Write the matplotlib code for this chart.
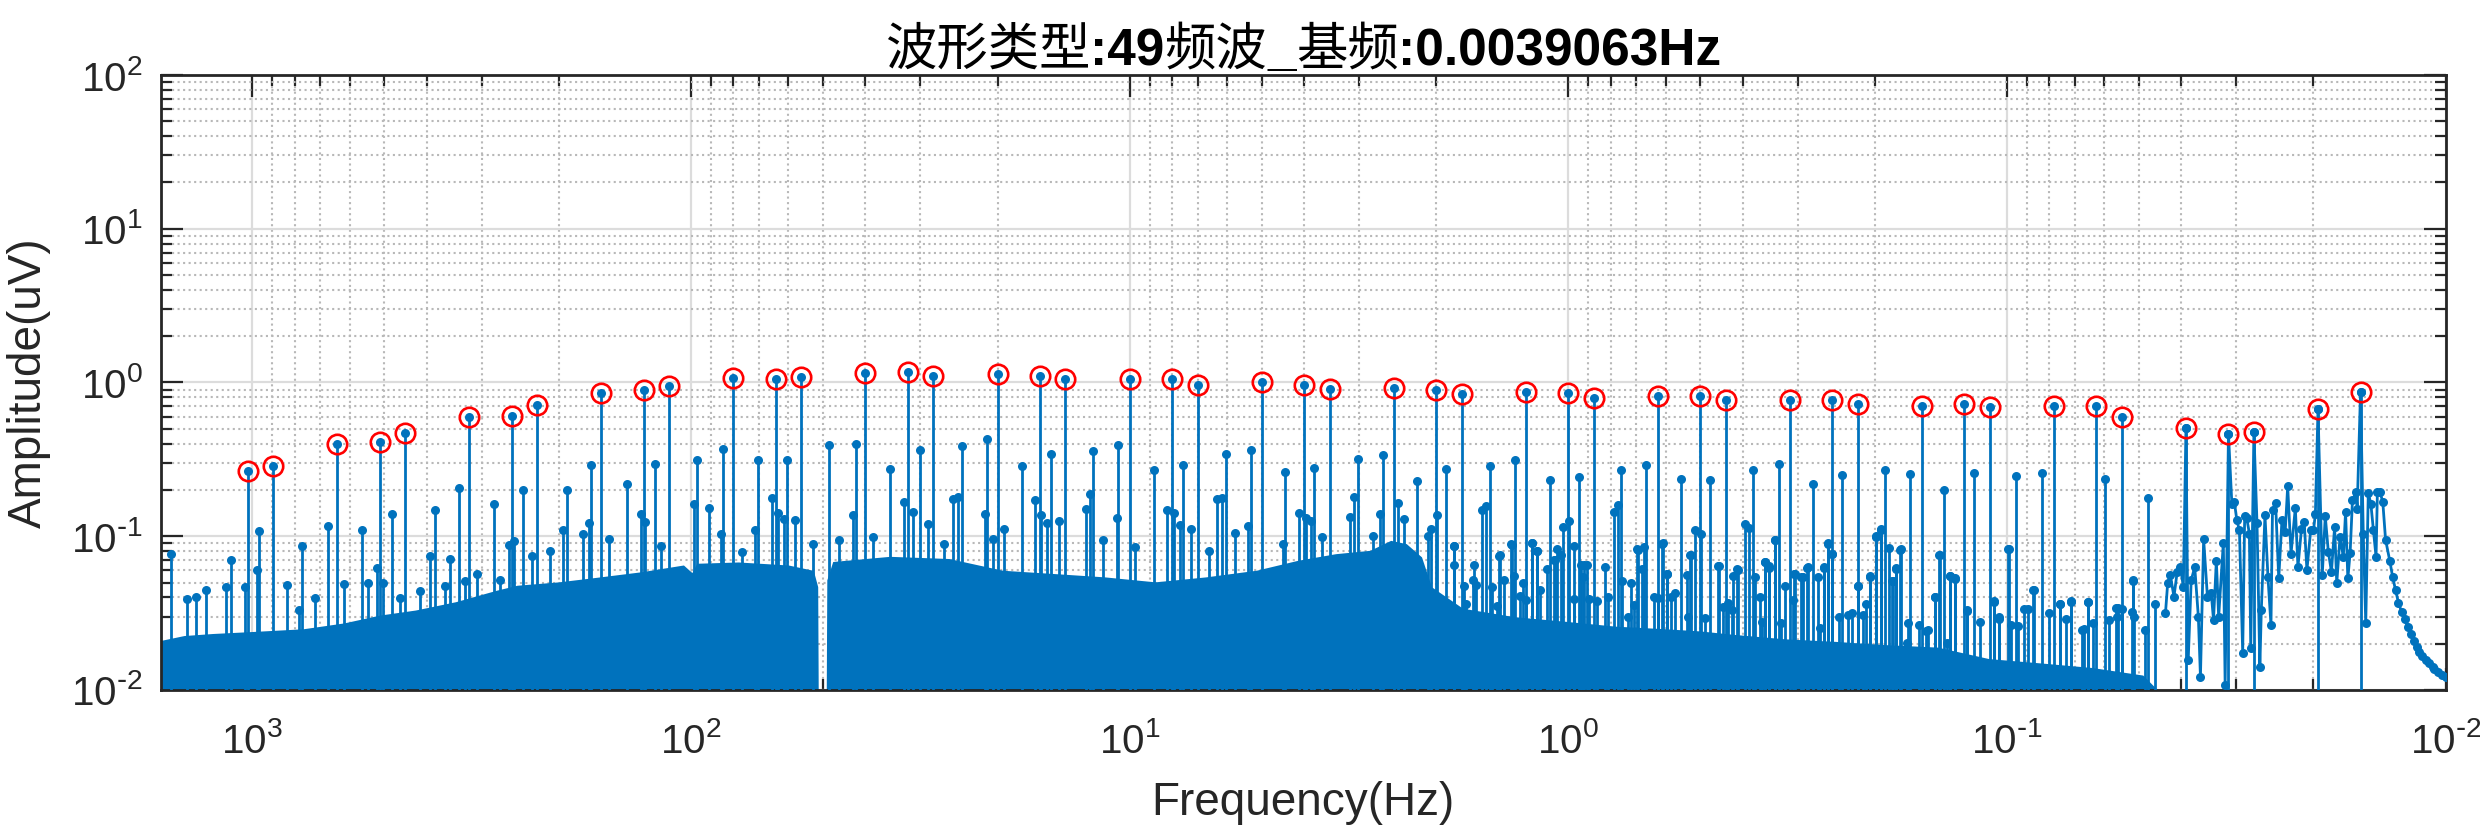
import numpy as np
import matplotlib
matplotlib.use('Agg')
import matplotlib.pyplot as plt
from matplotlib.ticker import LogLocator, NullFormatter, FuncFormatter

plt.rcParams['font.family'] = ['Liberation Sans', 'Noto Sans CJK SC', 'DejaVu Sans']

BLUE = '#0072BD'

# the 49 tone frequencies (Hz) and their amplitudes (uV), marked with red circles
peak_freq = [1024, 896, 640, 512, 448, 320, 256, 224, 160, 128, 112, 80, 64, 56,
             40, 32, 28, 20, 16, 14, 10, 8, 7, 5, 4, 3.5, 2.5, 2, 1.75, 1.25, 1,
             0.875, 0.625, 0.5, 0.4375, 0.3125, 0.25, 0.21875, 0.15625, 0.125,
             0.109375, 0.078125, 0.0625, 0.0546875, 0.0390625, 0.03125,
             0.02734375, 0.01953125, 0.015625]
peak_amp = [0.267, 0.285, 0.398, 0.408, 0.466, 0.596, 0.604, 0.709, 0.853, 0.892,
            0.942, 1.072, 1.046, 1.08, 1.15, 1.167, 1.11, 1.13, 1.10, 1.046,
            1.06, 1.046, 0.956, 1.0, 0.956, 0.91, 0.923, 0.887, 0.836, 0.861,
            0.848, 0.791, 0.811, 0.811, 0.764, 0.764, 0.764, 0.723, 0.706, 0.72,
            0.688, 0.706, 0.706, 0.593, 0.503, 0.464, 0.474, 0.668, 0.861]

# top of the dense noise floor, high -> low frequency
floor_freq = [1617, 1430, 1230, 1000, 766, 618, 512, 425, 344, 277, 249, 200, 161,
              130, 104, 99.5, 97, 78, 60, 52.6, 51.4, 51.2, 49.2, 49.0, 47.5, 35.2,
              25.8, 19.5, 14.9, 11.4, 8.75, 6.70, 5.14, 4.13, 3.39, 2.83, 2.54,
              2.34, 2.16, 2.05, 1.74, 1.33, 1.02, 0.78, 0.60, 0.50, 0.42, 0.32,
              0.246, 0.188, 0.144, 0.110, 0.084, 0.064, 0.049, 0.0437]
floor_amp = [0.021, 0.0226, 0.0233, 0.024, 0.025, 0.0273, 0.0307, 0.0331, 0.0375,
             0.0446, 0.048, 0.0505, 0.0544, 0.0587, 0.065, 0.058, 0.0667, 0.068,
             0.065, 0.060, 0.047, 0.005, 0.005, 0.052, 0.0685, 0.074, 0.0716,
             0.0601, 0.0572, 0.0544, 0.0505, 0.0544, 0.0601, 0.0698, 0.077, 0.081,
             0.094, 0.0895, 0.0734, 0.0469, 0.034, 0.030, 0.028, 0.026,
             0.025, 0.0242, 0.023, 0.0215, 0.0207, 0.0197, 0.019, 0.016,
             0.015, 0.014, 0.0125, 0.009]

# secondary spikes sticking out of the noise floor
spike_freq = [1535, 1405, 1346, 1277, 1149, 1119, 1038, 976, 964, 832, 784, 769, 721,
              673, 618, 561, 546, 520, 504, 481, 461, 415, 393, 384, 363, 354, 337,
              327, 308, 281, 273, 260, 253, 241, 230, 210, 196, 192, 176, 171, 169,
              154, 140, 130, 127, 121, 117, 98.4, 96.6, 90.8, 84.5, 85.5, 76.5,
              71.3, 70.2, 65.3, 63.4, 60.3, 61.2, 57.8, 52.8, 48.4, 45.9, 42.7,
              42.1, 38.4, 35.2, 32.7, 31.1, 30.1, 28.8, 26.5,
              25.2, 24.6, 24.1, 21.4, 21.1, 20.5, 19.3, 17.6, 16.4, 15.9, 15.4,
              15.1, 14.5, 12.6, 12.3, 12.1, 11.5, 10.7, 10.6, 9.70, 8.81, 8.20,
              7.94, 7.69, 7.57, 7.23, 6.60, 6.31, 6.15, 6.04, 5.76, 5.37, 5.30,
              4.48, 4.42, 4.10, 3.96, 3.86, 3.79, 3.64, 3.15, 3.08, 3.02, 2.79,
              2.68, 2.65, 2.44, 2.37, 2.21, 2.09, 2.05, 1.99, 1.90, 1.82, 1.64,
              1.57, 1.54, 1.51, 1.43, 1.345, 1.32, 1.21, 1.18, 1.10, 1.07, 1.03,
              0.996, 0.947, 0.922, 0.787, 0.770, 0.760, 0.698, 0.664, 0.611,
              0.596, 0.553, 0.526,
              0.513, 0.497, 0.474, 0.454, 0.412, 0.395, 0.388, 0.380, 0.356,
              0.348, 0.338, 0.331, 0.304, 0.294, 0.284, 0.277, 0.261, 0.256,
              0.250, 0.237, 0.218, 0.205, 0.199, 0.194, 0.190, 0.183, 0.179,
              0.174, 0.166, 0.146, 0.142, 0.139, 0.135, 0.131, 0.123, 0.1186,
              0.107, 0.0991, 0.0953, 0.0869, 0.0832, 0.0714, 0.0653, 0.0596,
              0.0559, 0.0516, 0.0476,
              0.532, 0.424, 0.361, 0.308, 0.267, 0.226, 0.168, 0.151, 0.104,
              0.0897, 0.0755, 0.0668, 0.0562, 0.0519, 0.0485, 0.0459]
spike_amp = [0.0772, 0.0388, 0.0404, 0.0444, 0.0469, 0.0698, 0.0469, 0.0601, 0.1076,
             0.0481, 0.0331, 0.0861, 0.0394, 0.1161, 0.0486, 0.1094, 0.0500,
             0.0625, 0.0493, 0.139, 0.0394, 0.0440, 0.0741, 0.1476, 0.0476,
             0.0713, 0.207, 0.0510, 0.0566, 0.1614, 0.0518, 0.0883, 0.0929, 0.201,
             0.0744, 0.0803, 0.1105, 0.201, 0.104, 0.1227, 0.289, 0.0966, 0.218,
             0.140, 0.124, 0.296, 0.0861, 0.163, 0.315, 0.1535, 0.371, 0.104,
             0.079, 0.1105, 0.312, 0.176, 0.1426, 0.315, 0.130, 0.128, 0.0895,
             0.390, 0.094, 0.137, 0.400, 0.099, 0.275, 0.167, 0.144, 0.362, 0.120,
             0.0895,
             0.174, 0.180, 0.384, 0.139, 0.431, 0.0966, 0.112, 0.285, 0.171,
             0.137, 0.122, 0.341, 0.126, 0.150, 0.187, 0.356, 0.094, 0.132, 0.395,
             0.0853, 0.268, 0.148, 0.1426, 0.119, 0.289, 0.111, 0.080, 0.174,
             0.176, 0.344, 0.105, 0.116, 0.365, 0.0887, 0.261, 0.142, 0.132,
             0.125, 0.279, 0.099, 0.133, 0.179, 0.319, 0.100, 0.139, 0.339, 0.164,
             0.130, 0.228, 0.100, 0.111, 0.137, 0.272, 0.0861, 0.0649, 0.148,
             0.157, 0.285, 0.0753, 0.0883, 0.315, 0.0905, 0.080, 0.233, 0.0698,
             0.115, 0.126, 0.243, 0.0649, 0.144, 0.159, 0.271, 0.0824, 0.289,
             0.0895, 0.0566, 0.236, 0.0753,
             0.109, 0.103, 0.233, 0.0641, 0.0608, 0.120, 0.113, 0.271, 0.0681,
             0.0638, 0.0951, 0.296, 0.0566, 0.0544, 0.0627, 0.218, 0.063, 0.0895,
             0.077, 0.251, 0.0478, 0.055, 0.099, 0.111, 0.271, 0.0513, 0.0617,
             0.0824, 0.255, 0.0404, 0.0753, 0.199, 0.055, 0.053, 0.0327, 0.259,
             0.0375, 0.0824, 0.248, 0.0446, 0.259, 0.0375, 0.0371, 0.236, 0.0343,
             0.0513, 0.178,
             0.030, 0.033, 0.0278, 0.0384, 0.0254, 0.0315, 0.0271, 0.0245, 0.029,
             0.0337, 0.0362, 0.025, 0.030, 0.0322, 0.0245, 0.0362]

# smaller spikes in the 2 Hz .. 0.05 Hz band
small_freq = [1.82, 1.82, 1.73, 1.71, 1.65, 1.62, 1.49, 1.45, 1.44, 1.40, 1.35, 1.33,
              1.29, 1.27, 1.25, 1.21, 1.18, 1.16, 1.12, 1.08, 1.06, 1.04, 0.969,
              0.969, 0.934, 0.908, 0.925, 0.895, 0.859, 0.823, 0.811, 0.753, 0.732,
              0.718, 0.708, 0.695, 0.679, 0.671, 0.639, 0.624, 0.609, 0.594, 0.583,
              0.570, 0.537, 0.527, 0.487, 0.456, 0.443, 0.433, 0.420, 0.410, 0.376,
              0.366, 0.356, 0.348, 0.338, 0.328, 0.321, 0.306, 0.292, 0.285, 0.269,
              0.261, 0.256, 0.250, 0.241, 0.230, 0.219, 0.213, 0.209, 0.205, 0.199,
              0.194, 0.186, 0.182, 0.179, 0.175, 0.169, 0.159, 0.153, 0.146, 0.143,
              0.137, 0.135, 0.131, 0.123, 0.115, 0.107, 0.104, 0.0995, 0.0981,
              0.0945, 0.0914, 0.0872, 0.0802, 0.0758, 0.0733, 0.0713, 0.0674,
              0.0653, 0.0637, 0.0586, 0.0564, 0.0546, 0.0516, 0.0514]
small_amp = [0.0861, 0.0649, 0.0473, 0.0365, 0.0523, 0.0481, 0.0464, 0.0351, 0.0748,
             0.0518, 0.0887, 0.055, 0.0407, 0.0497, 0.0384, 0.0905, 0.080, 0.0446,
             0.0608, 0.0698, 0.0832, 0.0753, 0.0861, 0.0388, 0.0649, 0.0649, 0.054,
             0.0392, 0.038, 0.0633, 0.0404, 0.0513, 0.030, 0.050, 0.0357, 0.0818,
             0.0608, 0.0853, 0.040, 0.0395, 0.0905, 0.0566, 0.0404, 0.0425, 0.0556,
             0.0753, 0.0292, 0.0638, 0.0348, 0.0369, 0.055, 0.0601, 0.054, 0.040,
             0.0681, 0.0626, 0.0951, 0.0271, 0.0473, 0.0566, 0.0544, 0.0617, 0.054,
             0.0617, 0.0905, 0.0764, 0.030, 0.0307, 0.0478, 0.0307, 0.036, 0.0544,
             0.100, 0.110, 0.0844, 0.0508, 0.0608, 0.0818, 0.0201, 0.0263, 0.0243,
             0.040, 0.0753, 0.0203, 0.055, 0.0531, 0.0331, 0.0275, 0.0378, 0.030,
             0.0824, 0.0263, 0.0260, 0.0334, 0.0446, 0.0315, 0.0361, 0.0289,
             0.0378, 0.0245, 0.0371, 0.0273, 0.0287, 0.0343, 0.0336, 0.0518, 0.030]

# low frequency end, where single samples can be seen (tones excluded)
trace_freq = [0.0435, 0.0430, 0.0424, 0.0416, 0.0409, 0.0402, 0.0396, 0.0386,
              0.0380, 0.0373, 0.0366, 0.0362, 0.0356, 0.0349, 0.0342, 0.0338,
              0.0333, 0.0329, 0.0321, 0.0318, 0.0307, 0.0303, 0.0299, 0.0295,
              0.0290, 0.0287, 0.0284, 0.0280, 0.0278, 0.0269, 0.0265, 0.0263,
              0.0258, 0.0254, 0.0250, 0.0248, 0.0244, 0.0240, 0.0236, 0.0232,
              0.0229, 0.0225, 0.0220, 0.0217, 0.0213, 0.0210, 0.0207, 0.0203,
              0.0200, 0.0198, 0.0191, 0.0188, 0.0185, 0.0182, 0.0179, 0.0177,
              0.0174, 0.0171, 0.0169, 0.0167, 0.0165, 0.0163, 0.0160, 0.0159,
              0.0154, 0.0152, 0.0150, 0.0148, 0.0146, 0.0144, 0.0143, 0.0141,
              0.0139, 0.0137, 0.0134, 0.0132, 0.0130, 0.0128, 0.0126, 0.0124,
              0.0122, 0.0120, 0.0118, 0.0116, 0.0115, 0.0113, 0.0111, 0.0109,
              0.0107, 0.0106, 0.0104, 0.0102, 0.0100]
trace_amp = [0.0315, 0.0493, 0.0559, 0.0404, 0.0587, 0.063, 0.0469, 0.0157,
             0.0518, 0.063, 0.0299, 0.0122, 0.0957, 0.0404, 0.0425, 0.0285,
             0.0692, 0.0299, 0.0905, 0.0108, 0.163, 0.167, 0.127, 0.109,
             0.0175, 0.135, 0.132, 0.104, 0.0187, 0.121, 0.0142, 0.0331,
             0.137, 0.0544, 0.0264, 0.148, 0.164, 0.0531, 0.127, 0.107,
             0.211, 0.077, 0.153, 0.063, 0.112, 0.124, 0.0601, 0.109,
             0.109, 0.140, 0.0559, 0.135, 0.079, 0.0587, 0.115, 0.0493,
             0.099, 0.0734, 0.144, 0.0531, 0.078, 0.171, 0.194, 0.151,
             0.104, 0.0271, 0.191, 0.163, 0.109, 0.0734, 0.194, 0.193,
             0.167, 0.095, 0.0692, 0.0544, 0.0446, 0.0369, 0.0323, 0.0288,
             0.0258, 0.0231, 0.0209, 0.0191, 0.0177, 0.0166, 0.0157, 0.0149,
             0.0142, 0.0136, 0.0130, 0.0126, 0.0122]

title_parts = [('波形类型', False), (':49', True), ('频波', False), ('_', True),
               ('基频', False), (':0.0039063Hz', True)]


def decade_label(v, pos):
    e = int(round(np.log10(v)))
    if e < 0:
        return r'$\mathdefault{10^{\text{-}%d}}$' % (-e)
    return r'$\mathdefault{10^{%d}}$' % e


fig = plt.figure(figsize=(24.8, 8.27), dpi=100)
ax = fig.add_axes([0.0648, 0.1657, 0.9213, 0.7436])

# dense noise floor
ax.fill_between(floor_freq, 1e-3, floor_amp, color=BLUE, lw=0, zorder=2)
ax.vlines(small_freq, 1e-3, small_amp, color=BLUE, lw=2.0, zorder=3)
ax.plot(small_freq, small_amp, 'o', color=BLUE, ms=6.5, mew=0, zorder=3)
ax.vlines(spike_freq, 1e-3, spike_amp, color=BLUE, lw=2.0, zorder=3)
ax.plot(spike_freq, spike_amp, 'o', color=BLUE, ms=6.5, mew=0, zorder=3)

# low frequency trace joined with the tones that fall in it
pf = np.array(peak_freq)
pa = np.array(peak_amp)
low = pf < 0.044
tf = np.concatenate([trace_freq, pf[low]])
ta = np.concatenate([trace_amp, pa[low]])
order = np.argsort(tf)[::-1]
ax.plot(tf[order], ta[order], '-o', color=BLUE, lw=2.0, ms=6.5, mew=0, zorder=3)

# tones
ax.vlines(pf, 1e-3, pa, color=BLUE, lw=2.0, zorder=4)
ax.plot(pf, pa, 'o', color=BLUE, ms=6.5, mew=0, zorder=4)
ax.plot(pf, pa, 'o', mfc='none', mec='red', ms=14, mew=1.9, zorder=5)

ax.set_xscale('log')
ax.set_yscale('log')
ax.set_xlim(1617, 0.01)
ax.set_ylim(0.01, 100)

ax.xaxis.set_major_locator(LogLocator(base=10, numticks=20))
ax.xaxis.set_minor_locator(LogLocator(base=10, subs=np.arange(2, 10), numticks=20))
ax.xaxis.set_major_formatter(FuncFormatter(decade_label))
ax.xaxis.set_minor_formatter(NullFormatter())
ax.yaxis.set_major_locator(LogLocator(base=10, numticks=20))
ax.yaxis.set_minor_locator(LogLocator(base=10, subs=np.arange(2, 10), numticks=20))
ax.yaxis.set_major_formatter(FuncFormatter(decade_label))
ax.yaxis.set_minor_formatter(NullFormatter())

ax.set_axisbelow(True)
ax.grid(which='major', color='#dcdcdc', lw=1.6, ls='-')
ax.grid(which='minor', color='#b8b8b8', lw=1.5, ls=':')

for s in ax.spines.values():
    s.set_color('#262626')
    s.set_linewidth(2.0)
ax.tick_params(which='both', direction='in', top=True, right=True,
               color='#262626', width=1.6, labelcolor='#262626')
ax.tick_params(which='major', length=16, labelsize=29)
ax.tick_params(which='minor', length=8)
ax.tick_params(axis='x', which='major', pad=23)
ax.tick_params(axis='y', which='major', pad=13)

ax.set_xlabel('Frequency(Hz)', fontsize=33, color='#262626')
ax.set_ylabel('Amplitude(uV)', fontsize=33, color='#262626')
ax.xaxis.set_label_coords(0.5, -0.148)
ax.yaxis.set_label_coords(-0.048, 0.5)

# title: Chinese in regular weight, numbers in bold, laid out piece by piece
fig.canvas.draw()
r = fig.canvas.get_renderer()
W = fig.get_figwidth() * fig.dpi
texts = []
for s, bold in title_parts:
    if bold:
        t = fig.text(0, 0.9214, s, fontsize=37, fontweight='bold',
                     family=['Liberation Sans', 'DejaVu Sans'], va='baseline', ha='left')
    else:
        t = fig.text(0, 0.9214, s, fontsize=37, fontweight='normal',
                     family=['Noto Sans CJK SC', 'DejaVu Sans'], va='baseline', ha='left')
    texts.append(t)
widths = [t.get_window_extent(renderer=r).width for t in texts]
x0 = (0.0648 + 0.9213 / 2) * W - sum(widths) / 2
for t, w in zip(texts, widths):
    t.set_x(x0 / W)
    x0 += w

fig.savefig('out.png', dpi=100)
